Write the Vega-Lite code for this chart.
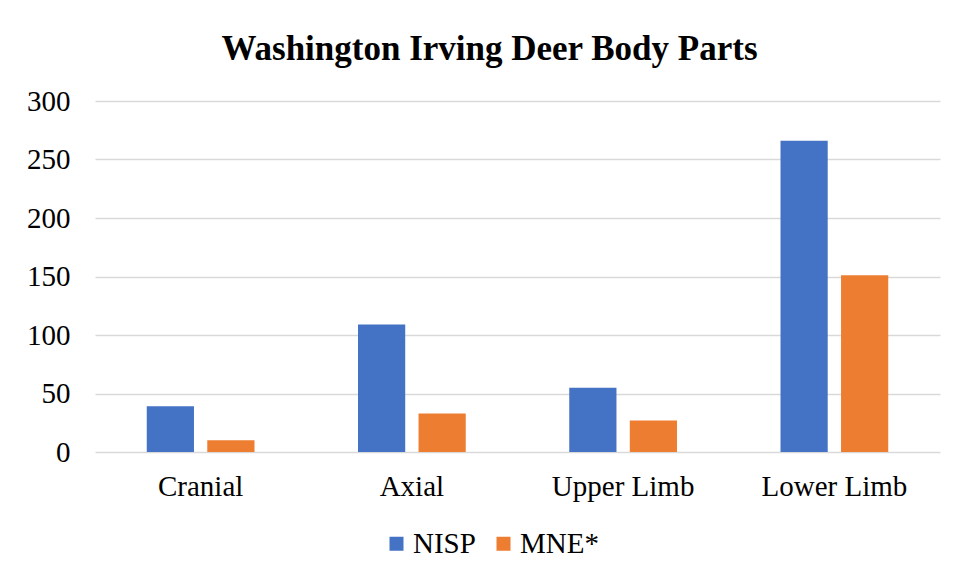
{
  "$schema": "https://vega.github.io/schema/vega-lite/v6.json",
  "autosize": {"type": "none"},
  "padding": {"left": 95, "top": 101, "right": 18, "bottom": 128},
  "width": 845,
  "height": 351,
  "background": "white",
  "title": {
    "text": "Washington Irving Deer Body Parts",
    "font": "Liberation Serif",
    "fontSize": 35,
    "fontWeight": "bold",
    "color": "black",
    "anchor": "middle",
    "dx": -28,
    "offset": 20
  },
  "data": {
    "values": [
      {"part": "Cranial", "series": "NISP", "value": 39},
      {"part": "Cranial", "series": "MNE*", "value": 10},
      {"part": "Axial", "series": "NISP", "value": 109},
      {"part": "Axial", "series": "MNE*", "value": 33},
      {"part": "Upper Limb", "series": "NISP", "value": 55},
      {"part": "Upper Limb", "series": "MNE*", "value": 27},
      {"part": "Lower Limb", "series": "NISP", "value": 266},
      {"part": "Lower Limb", "series": "MNE*", "value": 151}
    ]
  },
  "mark": {"type": "bar"},
  "encoding": {
    "x": {
      "field": "part",
      "type": "nominal",
      "sort": ["Cranial", "Axial", "Upper Limb", "Lower Limb"],
      "scale": {"paddingInner": 0.49, "paddingOuter": 0.245},
      "axis": {
        "title": null,
        "labelAngle": 0,
        "domain": false,
        "ticks": false,
        "labelFont": "Liberation Serif",
        "labelFontSize": 29,
        "labelColor": "black",
        "labelPadding": 20
      }
    },
    "xOffset": {
      "field": "series",
      "type": "nominal",
      "sort": ["NISP", "MNE*"],
      "scale": {"paddingInner": 0.22, "paddingOuter": 0}
    },
    "y": {
      "field": "value",
      "type": "quantitative",
      "scale": {"domain": [0, 300]},
      "axis": {
        "title": null,
        "values": [0, 50, 100, 150, 200, 250, 300],
        "domain": false,
        "ticks": false,
        "grid": true,
        "gridColor": "#d9d9d9",
        "gridWidth": 1.5,
        "labelFont": "Liberation Serif",
        "labelFontSize": 29,
        "labelColor": "black",
        "labelPadding": 25
      }
    },
    "color": {
      "field": "series",
      "type": "nominal",
      "sort": ["NISP", "MNE*"],
      "scale": {"domain": ["NISP", "MNE*"], "range": ["#4472C4", "#ED7D31"]},
      "legend": {
        "title": null,
        "orient": "none",
        "legendX": 287,
        "legendY": 428,
        "direction": "horizontal",
        "symbolType": "square",
        "symbolSize": 196,
        "symbolStrokeWidth": 0,
        "symbolOpacity": 1,
        "labelFont": "Liberation Serif",
        "labelFontSize": 29,
        "labelColor": "black",
        "labelOffset": 2,
        "columnPadding": 13
      }
    }
  },
  "config": {
    "view": {"stroke": null}
  }
}
